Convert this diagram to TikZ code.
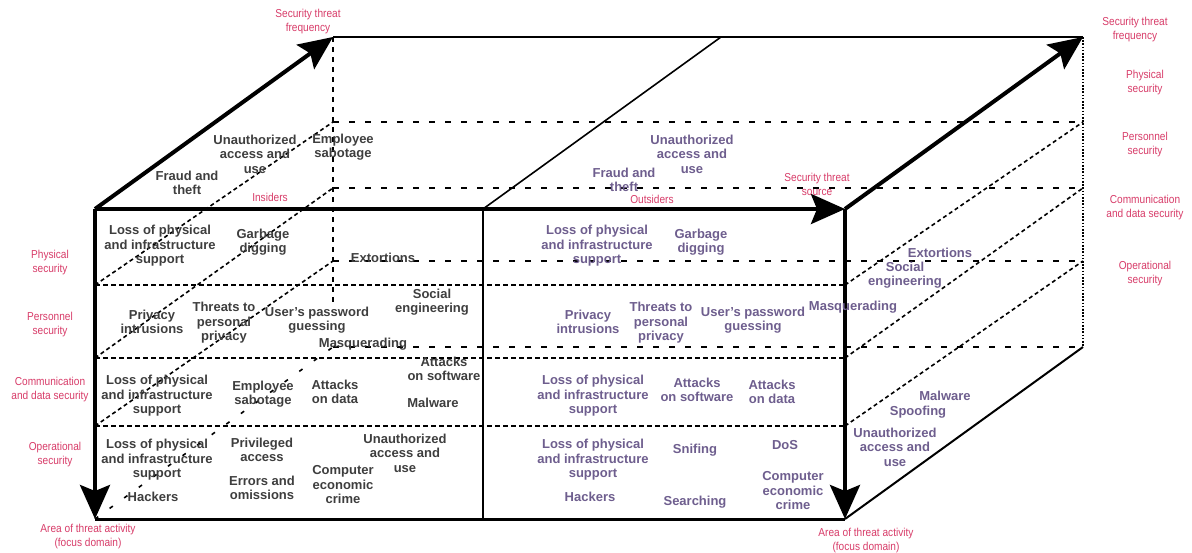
\documentclass[tikz,border=0pt]{standalone}
\usepackage{fontspec}
\setmainfont{Liberation Sans}
\newfontfamily\labfont[FakeStretch=0.88]{Liberation Sans}
\usetikzlibrary{arrows.meta}
\definecolor{labred}{RGB}{216,60,105}
\definecolor{dk}{RGB}{62,62,62}
\definecolor{pu}{RGB}{110,94,142}
\begin{document}
\begin{tikzpicture}[x=1pt,y=-1pt,
 thr/.style={font=\fontsize{13}{14.5}\selectfont\bfseries, text=dk, align=center, inner sep=0pt},
 thrp/.style={thr, text=pu},
 lab/.style={font=\labfont\fontsize{11.5}{14}\selectfont, text=labred, align=center, inner sep=0pt},
 axisarrow/.style={line width=4pt, -{Stealth[length=34pt,width=30pt,inset=6pt]}},
 boxedge/.style={line width=2.5pt},
 thinedge/.style={line width=1.6pt},
 dfront/.style={line width=1.8pt, dash pattern=on 5pt off 3pt},
 dback/.style={line width=1.8pt, dash pattern=on 6pt off 10pt},
 ddiag/.style={line width=1.6pt, dash pattern=on 4pt off 3pt},
 dsparse/.style={line width=1.6pt, dash pattern=on 4pt off 14pt},
 dvert/.style={line width=1.8pt, dash pattern=on 5pt off 5pt},
 dotv/.style={line width=1.8pt, dash pattern=on 1.6pt off 1.6pt}]
\fill[white] (0,0) rectangle (1192,553);
\useasboundingbox (0,0) rectangle (1192,553);
% corners
\coordinate (FTL) at (95,209);
\coordinate (FTR) at (845,209);
\coordinate (FBL) at (95,519);
\coordinate (FBR) at (845,519);
\coordinate (BTL) at (333,37);
\coordinate (BTR) at (1083,37);
\coordinate (BBL) at (333,347);
\coordinate (BBR) at (1083,347);
\coordinate (FM) at (483,209);
\coordinate (FMB) at (483,519);
\coordinate (BM) at (721,37);
\coordinate (BLend) at (333,305);
% front partitions
\coordinate (FL1) at (95,285);  \coordinate (FR1) at (845,285);
\coordinate (FL2) at (95,358);  \coordinate (FR2) at (845,358);
\coordinate (FL3) at (95,426);  \coordinate (FR3) at (845,426);
% back partitions
\coordinate (BL1) at (333,122); \coordinate (BR1) at (1083,122);
\coordinate (BL2) at (333,188); \coordinate (BR2) at (1083,188);
\coordinate (BL3) at (333,261); \coordinate (BR3) at (1083,261);

% back / hidden lines
\draw[dback] (BL1) -- (BR1);
\draw[dback] (BL2) -- (BR2);
\draw[dback] (BL3) -- (BR3);
\draw[dback] (BBL) -- (BBR);
\draw[dvert] (BTL) -- (BLend);
\draw[dotv] (BTR) -- (BBR);
\draw[ddiag] (FL1) -- (BL1);
\draw[ddiag] (FL2) -- (BL2);
\draw[ddiag] (FL3) -- (BL3);
\draw[dsparse] (FBL) -- (BBL);
\draw[ddiag] (FR1) -- (BR1);
\draw[ddiag] (FR2) -- (BR2);
\draw[ddiag] (FR3) -- (BR3);
% front partitions
\draw[dfront] (FL1) -- (FR1);
\draw[dfront] (FL2) -- (FR2);
\draw[dfront] (FL3) -- (FR3);
% solid edges
\draw[boxedge] (BTL) -- (BTR);
\draw[thinedge] (FM) -- (BM);
\draw[boxedge] (FM) -- (FMB);
\draw[line width=3pt] (FBL) -- (FBR);
\draw[line width=2pt] (FBR) -- (BBR);
% axis arrows
\draw[axisarrow] (FTL) -- (BTL);
\draw[axisarrow] (FTL) -- (FTR);
\draw[axisarrow] (FTR) -- (BTR);
\draw[axisarrow] (FTL) -- (FBL);
\draw[axisarrow] (FTR) -- (FBR);

% left half threats (insiders)
\node[thr] (L1) at (187,183) {Fraud and\\theft};
\node[thr] (L2) at (255,154) {Unauthorized\\access and\\use};
\node[thr] (L3) at (343,147) {Employee\\sabotage};
\node[thr] (L4) at (160,246) {Loss of physical\\and infrastructure\\support};
\node[thr] (L5) at (263,242) {Garbage\\digging};
\node[thr] (L6) at (383,258) {Extortions};
\node[thr] (L7) at (152,322) {Privacy\\intrusions};
\node[thr] (L8) at (224,323) {Threats to\\personal\\privacy};
\node[thr] (L9) at (317,320) {User's password\\guessing};
\node[thr] (L10) at (432,302) {Social\\engineering};
\node[thr] (L11) at (363,344) {Masquerading};
\node[thr] (L12) at (444,369) {Attacks\\on software};
\node[thr] (L13) at (157,396) {Loss of physical\\and infrastructure\\support};
\node[thr] (L14) at (263,394) {Employee\\sabotage};
\node[thr] (L15) at (335,392) {Attacks\\on data};
\node[thr] (L16) at (433,403) {Malware};
\node[thr] (L17) at (157,460) {Loss of physical\\and infrastructure\\support};
\node[thr] (L18) at (262,450) {Privileged\\access};
\node[thr] (L19) at (262,488) {Errors and\\omissions};
\node[thr] (L20) at (343,485) {Computer\\economic\\crime};
\node[thr] (L21) at (405,453) {Unauthorized\\access and\\use};
\node[thr] (L22) at (153,497) {Hackers};

% right half threats (outsiders)
\node[thrp] (R1) at (692,154) {Unauthorized\\access and\\use};
\node[thrp] (R2) at (624,180) {Fraud and\\theft};
\node[thrp] (R3) at (597,246) {Loss of physical\\and infrastructure\\support};
\node[thrp] (R4) at (701,242) {Garbage\\digging};
\node[thrp] (R5) at (588,322) {Privacy\\intrusions};
\node[thrp] (R6) at (661,323) {Threats to\\personal\\privacy};
\node[thrp] (R7) at (753,320) {User's password\\guessing};
\node[thrp] (R8) at (853,307) {Masquerading};
\node[thrp] (R9) at (593,396) {Loss of physical\\and infrastructure\\support};
\node[thrp] (R10) at (697,390) {Attacks\\on software};
\node[thrp] (R11) at (772,392) {Attacks\\on data};
\node[thrp] (R12) at (593,460) {Loss of physical\\and infrastructure\\support};
\node[thrp] (R13) at (695,450) {Snifing};
\node[thrp] (R14) at (785,445) {DoS};
\node[thrp] (R15) at (793,491) {Computer\\economic\\crime};
\node[thrp] (R16) at (590,497) {Hackers};
\node[thrp] (R17) at (695,502) {Searching};
\node[thrp] (R18) at (940,253) {Extortions};
\node[thrp] (R19) at (905,275) {Social\\engineering};
\node[thrp] (R20) at (945,396) {Malware};
\node[thrp] (R21) at (918,412) {Spoofing};
\node[thrp] (R22) at (895,447) {Unauthorized\\access and\\use};

% red labels
\node[lab] (Q1) at (308,22) {Security threat\\frequency};
\node[lab] (Q2) at (270,197) {Insiders};
\node[lab] (Q3) at (652,199) {Outsiders};
\node[lab] (Q4) at (817,184) {Security threat\\source};
\node[lab] (Q5) at (50,263) {Physical\\security};
\node[lab] (Q6) at (50,325) {Personnel\\security};
\node[lab] (Q7) at (50,390) {Communication\\and data security};
\node[lab] (Q8) at (55,455) {Operational\\security};
\node[lab] (Q9) at (88,537) {Area of threat activity\\(focus domain)};
\node[lab] (Q10) at (866,541) {Area of threat activity\\(focus domain)};
\node[lab] (Q11) at (1135,30) {Security threat\\frequency};
\node[lab] (Q12) at (1145,83) {Physical\\security};
\node[lab] (Q13) at (1145,145) {Personnel\\security};
\node[lab] (Q14) at (1145,208) {Communication\\and data security};
\node[lab] (Q15) at (1145,274) {Operational\\security};
\end{tikzpicture}
\end{document}
